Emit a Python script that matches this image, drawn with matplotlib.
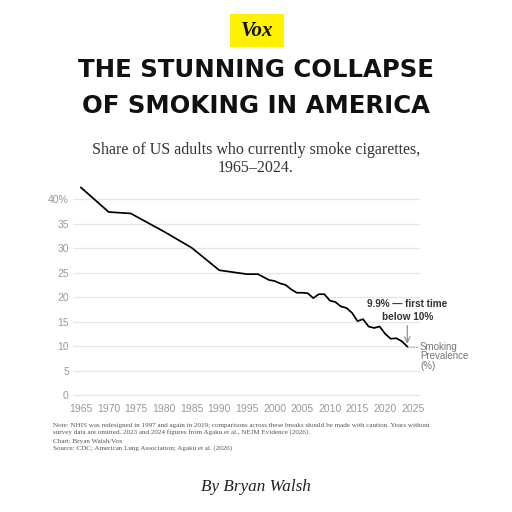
import matplotlib
matplotlib.use('Agg')
import matplotlib.pyplot as plt
from matplotlib.patches import Rectangle

# Data: share of US adults who currently smoke cigarettes (%)
years = [1965, 1970, 1974, 1980, 1985, 1990, 1995, 1997, 1998, 1999, 2000,
         2001, 2002, 2003, 2004, 2005, 2006, 2007, 2008, 2009, 2010, 2011,
         2012, 2013, 2014, 2015, 2016, 2017, 2018, 2019, 2020, 2021, 2022,
         2023, 2024]
prevalence = [42.4, 37.4, 37.1, 33.4, 30.1, 25.5, 24.7, 24.7, 24.1, 23.5, 23.3,
              22.8, 22.5, 21.6, 20.9, 20.9, 20.8, 19.8, 20.6, 20.6, 19.3, 19.0,
              18.1, 17.8, 16.8, 15.1, 15.5, 14.0, 13.7, 14.0, 12.5, 11.5, 11.6,
              11.0, 9.9]
x_ticks = list(range(1965, 2030, 5))
y_ticks = [0, 5, 10, 15, 20, 25, 30, 35, 40]
y_labels = ['0', '5', '10', '15', '20', '25', '30', '35', '40%']

sans = ['Liberation Sans', 'DejaVu Sans']
serif = ['Liberation Serif', 'DejaVu Serif']

fig = plt.figure(figsize=(5.12, 5.12), dpi=100)
fig.patch.set_facecolor('white')

# Vox logo
fig.patches.append(Rectangle((230 / 512, 1 - 47 / 512), 54 / 512, 33 / 512,
                             transform=fig.transFigure, facecolor='#FFF200',
                             edgecolor='none'))
fig.text(257 / 512, 1 - 31 / 512, 'Vox', ha='center', va='center', fontsize=15,
         fontweight='bold', fontstyle='italic', family=serif, color='#111111')

# Title
fig.text(0.5, 1 - 70 / 512, 'THE STUNNING COLLAPSE', ha='center', va='center',
         fontsize=17.6, fontweight='bold', family='DejaVu Sans', color='#111111')
fig.text(0.5, 1 - 106 / 512, 'OF SMOKING IN AMERICA', ha='center', va='center',
         fontsize=17.6, fontweight='bold', family='DejaVu Sans', color='#111111')

# Subtitle
fig.text(0.5, 1 - 150 / 512, 'Share of US adults who currently smoke cigarettes,',
         ha='center', va='center', fontsize=11.5, family=serif, color='#333333')
fig.text(0.5, 1 - 168 / 512, '1965\u20132024.', ha='center', va='center',
         fontsize=11.5, family=serif, color='#333333')

# Chart
ax = fig.add_axes([73 / 512, 1 - 399.9 / 512, 347 / 512, 215.3 / 512])
ax.plot(years, prevalence, color='black', linewidth=1.25, solid_joinstyle='round')
ax.set_xlim(1963.55, 2026.3)
ax.set_ylim(-1, 43)
ax.set_xticks(x_ticks)
ax.set_yticks(y_ticks)
ax.set_yticklabels(y_labels)
for s in ax.spines.values():
    s.set_visible(False)
ax.grid(True, axis='y', color='#e6e6e6', linewidth=0.9)
ax.set_axisbelow(True)
ax.tick_params(length=0, labelsize=7.5, labelcolor='#9a9a9a', pad=3)
for lab in ax.get_xticklabels() + ax.get_yticklabels():
    lab.set_family(sans)

# End label
ax.plot([years[-1], 2026.0], [prevalence[-1], prevalence[-1]], color='#777777',
        linestyle=':', linewidth=0.8, clip_on=False)
ax.text(2026.3, prevalence[-1] + 1.0, 'Smoking\nPrevalence\n(%)', ha='left', va='top',
        fontsize=7, color='#777777', family=sans, linespacing=0.95, clip_on=False)

# Annotation
ax.text(years[-1], 17.2, '9.9% \u2014 first time\nbelow 10%', ha='center', va='center',
        fontsize=7.2, fontweight='bold', family=sans, color='#333333', linespacing=1.35)
ax.annotate('', xy=(years[-1], prevalence[-1] + 0.6), xytext=(years[-1], 14.2),
            arrowprops=dict(arrowstyle='->', color='#888888', lw=0.8,
                            shrinkA=0, shrinkB=0))

# Notes
note_color = '#555555'
note_lines = [
    (425, 'Note: NHIS was redesigned in 1997 and again in 2019; comparisons across these breaks '
          'should be made with caution. Years without'),
    (432, 'survey data are omitted. 2023 and 2024 figures from Agaku et al., NEJM Evidence (2026).'),
    (441, 'Chart: Bryan Walsh/Vox'),
    (448, 'Source: CDC; American Lung Association; Agaku et al. (2026)'),
]
for ypix, line in note_lines:
    fig.text(53 / 512, 1 - ypix / 512, line, ha='left', va='center', fontsize=5.1,
             family=serif, color=note_color)

fig.text(0.5, 1 - 487 / 512, 'By Bryan Walsh', ha='center', va='center',
         fontsize=12.3, fontstyle='italic', family=serif, color='#222222')

plt.savefig('out.png', dpi=100)
plt.close()
